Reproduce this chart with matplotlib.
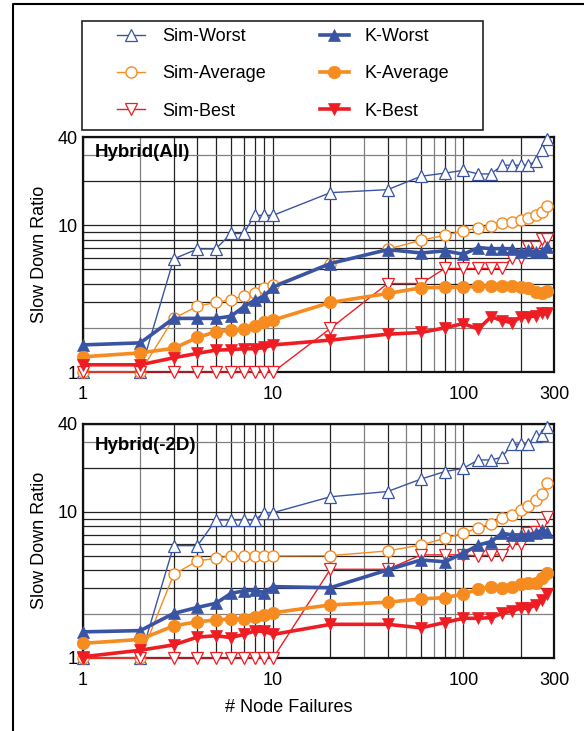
import matplotlib
matplotlib.use("Agg")
import matplotlib.pyplot as plt
from matplotlib.patches import Rectangle
from matplotlib.lines import Line2D
from matplotlib.ticker import FixedLocator, FixedFormatter

plt.rcParams['font.family'] = ['Liberation Sans', 'DejaVu Sans']

# ---------------- data ----------------
x_fail = [1, 2, 3, 4, 5, 6, 7, 8, 9, 10, 20, 40, 60, 80, 100, 120, 140, 160,
          180, 200, 220, 240, 260, 275]

# Hybrid(All)
all_sim_worst = [1.0, 1.0, 5.9, 6.9, 6.9, 8.8, 8.8, 11.7, 11.7, 11.7, 16.7, 17.5,
                 21.6, 22.7, 23.7, 22.4, 22.4, 25.7, 25.7, 25.7, 25.7, 27.4, 32.4, 38.5]
all_sim_avg = [1.0, 1.0, 2.32, 2.81, 2.98, 3.12, 3.30, 3.48, 3.71, 3.91, 5.49, 6.87,
               7.91, 8.55, 9.14, 9.59, 9.89, 10.3, 10.6, 10.9, 11.3, 11.7, 12.4, 13.5]
all_sim_best = [1.0, 1.0, 1.0, 1.0, 1.0, 1.0, 1.0, 1.0, 1.0, 1.0, 1.98, 4.01,
                4.01, 5.08, 5.08, 5.08, 5.08, 5.08, 5.99, 5.99, 7.12, 7.12, 8.12, 8.12]
all_k_worst = [1.53, 1.58, 2.32, 2.32, 2.32, 2.40, 2.78, 3.09, 3.30, 3.80, 5.49, 6.83,
               6.48, 6.70, 6.35, 7.05, 6.93, 6.93, 6.93, 6.59, 6.75, 6.59, 6.59, 7.12]
all_k_avg = [1.27, 1.35, 1.45, 1.72, 1.88, 1.93, 1.96, 2.07, 2.18, 2.26, 2.98, 3.43,
             3.75, 3.77, 3.80, 3.83, 3.86, 3.86, 3.88, 3.80, 3.71, 3.52, 3.43, 3.57]
all_k_best = [1.12, 1.12, 1.25, 1.34, 1.41, 1.42, 1.44, 1.44, 1.47, 1.53, 1.65, 1.81,
              1.86, 2.00, 2.14, 1.96, 2.38, 2.24, 2.17, 2.36, 2.38, 2.41, 2.51, 2.53]

# Hybrid(-2D)
d2_sim_worst = [1.0, 1.0, 5.88, 5.88, 8.81, 8.81, 8.81, 8.81, 9.89, 9.89, 12.7, 13.8,
                16.8, 18.9, 19.9, 22.7, 22.7, 23.7, 29.1, 29.1, 29.1, 33.2, 33.8, 38.4]
d2_sim_avg = [1.0, 1.0, 3.74, 4.62, 4.81, 5.0, 5.0, 5.0, 5.0, 5.0, 5.02, 5.41,
              5.94, 6.60, 7.15, 7.81, 8.27, 9.05, 9.53, 10.3, 11.0, 12.1, 13.2, 15.7]
d2_sim_best = [1.0, 1.0, 1.0, 1.0, 1.0, 1.0, 1.0, 1.0, 1.0, 1.0, 4.05, 4.05,
               5.08, 5.08, 5.08, 5.0, 5.08, 5.08, 6.11, 6.0, 7.21, 7.3, 8.15, 9.2]
d2_k_worst = [1.51, 1.54, 2.02, 2.22, 2.37, 2.77, 2.88, 2.92, 2.80, 3.08, 3.03, 4.01,
              4.69, 4.56, 5.21, 5.94, 6.26, 7.15, 6.96, 6.96, 6.96, 7.15, 7.53, 7.3]
d2_k_avg = [1.26, 1.34, 1.66, 1.77, 1.82, 1.85, 1.86, 1.92, 1.97, 2.04, 2.31, 2.41,
            2.54, 2.59, 2.74, 2.95, 3.08, 3.03, 3.08, 3.20, 3.25, 3.25, 3.51, 3.84]
d2_k_best = [1.02, 1.13, 1.23, 1.39, 1.42, 1.38, 1.45, 1.53, 1.52, 1.45, 1.70, 1.70,
             1.61, 1.75, 1.87, 1.87, 1.89, 2.02, 2.10, 2.19, 2.19, 2.31, 2.50, 2.73]

series_names = ['Sim-Worst', 'Sim-Average', 'Sim-Best', 'K-Worst', 'K-Average', 'K-Best']
panel_titles = ['Hybrid(All)', 'Hybrid(-2D)']

x_grid = [1, 2, 3, 4, 5, 6, 7, 8, 9, 10, 20, 30, 40, 50, 60, 70, 80, 90, 100, 200, 300]
x_labels = ['1', '', '', '', '', '', '', '', '', '10', '', '', '', '', '', '', '', '', '100', '', '300']
y_grid = [1, 2, 3, 4, 5, 6, 7, 8, 9, 10, 20, 30, 40]
y_labels = ['1', '', '', '', '', '', '', '', '', '10', '', '', '40']

BLUE = '#3a54a4'
ORANGE = '#f68b1f'
RED = '#ee1d24'

styles = {
    'Sim-Worst': dict(color=BLUE, lw=1.0, marker='^', ms=8, mfc='white', mec=BLUE, mew=0.9, zorder=3),
    'Sim-Average': dict(color=ORANGE, lw=1.0, marker='o', ms=8, mfc='white', mec=ORANGE, mew=1.0, zorder=3),
    'Sim-Best': dict(color=RED, lw=1.0, marker='v', ms=8, mfc='white', mec=RED, mew=0.9, zorder=3),
    'K-Worst': dict(color=BLUE, lw=2.6, marker='^', ms=8.5, mfc=BLUE, mec=BLUE, mew=0.5, zorder=4),
    'K-Average': dict(color=ORANGE, lw=2.6, marker='o', ms=9, mfc=ORANGE, mec=ORANGE, mew=0.5, zorder=4),
    'K-Best': dict(color=RED, lw=2.6, marker='v', ms=8.5, mfc=RED, mec=RED, mew=0.5, zorder=4),
}

FS = 13

fig = plt.figure(figsize=(5.84, 7.31), dpi=100)
ax1 = fig.add_axes([83 / 584, 1 - 372 / 731, 471 / 584, 235 / 731])
ax2 = fig.add_axes([83 / 584, 1 - 658 / 731, 471 / 584, 234 / 731])

gray_x = {2, 30, 50, 70, 90}
gray_y = {2, 30}


def draw(ax, data, title, title_y):
    ax.set_xscale('log')
    ax.set_yscale('log')
    handles = []
    for name, ys in zip(series_names, data):
        h, = ax.plot(x_fail, ys, label=name, clip_on=False, **styles[name])
        handles.append(h)
    ax.set_xlim(1, 300)
    ax.set_ylim(1, 40)
    ax.xaxis.set_major_locator(FixedLocator(x_grid))
    ax.xaxis.set_major_formatter(FixedFormatter(x_labels))
    ax.xaxis.set_minor_locator(FixedLocator([]))
    ax.yaxis.set_major_locator(FixedLocator(y_grid))
    ax.yaxis.set_major_formatter(FixedFormatter(y_labels))
    ax.yaxis.set_minor_locator(FixedLocator([]))
    ax.tick_params(axis='both', which='both', length=0, labelsize=FS)
    ax.tick_params(axis='x', pad=10)
    ax.tick_params(axis='y', pad=4)
    ax.grid(True, which='major', lw=0.9, color='#222222')
    for v, gl in zip(x_grid, ax.xaxis.get_gridlines()):
        if v in gray_x:
            gl.set_color('#808080')
    for v, gl in zip(y_grid, ax.yaxis.get_gridlines()):
        if v in gray_y:
            gl.set_color('#808080')
    ax.set_axisbelow(True)
    for s in ax.spines.values():
        s.set_linewidth(1.6)
        s.set_color('#111111')
    ax.text(0.026, title_y, title, transform=ax.transAxes, ha='left', va='center',
            fontsize=13.5, fontweight='bold', zorder=5)
    return handles


handles = draw(ax1, [all_sim_worst, all_sim_avg, all_sim_best, all_k_worst, all_k_avg, all_k_best],
               panel_titles[0], 0.932)
draw(ax2, [d2_sim_worst, d2_sim_avg, d2_sim_best, d2_k_worst, d2_k_avg, d2_k_best],
     panel_titles[1], 0.910)

fig.text(40 / 584, 1 - 254 / 731, 'Slow Down Ratio', rotation=90, ha='center', va='center', fontsize=FS)
fig.text(40 / 584, 1 - 540 / 731, 'Slow Down Ratio', rotation=90, ha='center', va='center', fontsize=FS)
fig.text(289 / 584, 1 - 708 / 731, '# Node Failures', ha='center', va='center', fontsize=FS)

# legend
fig.patches.append(Rectangle((82 / 584, 1 - 130 / 731), 401 / 584, 109 / 731,
                             transform=fig.transFigure, fill=False, lw=1.2, ec='#222222'))
fig.legend(handles, series_names, ncol=2, loc='center',
           bbox_to_anchor=(283 / 584, 1 - 74 / 731), frameon=False, fontsize=FS,
           handlelength=1.6, handletextpad=0.9, columnspacing=3.0, labelspacing=1.12,
           borderpad=0.2)

# outer frame
fig.add_artist(Line2D([13 / 584, 13 / 584, 1.0], [0.0, 1 - 4 / 731, 1 - 4 / 731],
                      transform=fig.transFigure, color='black', lw=1.5))

fig.savefig('out.png', dpi=100)
